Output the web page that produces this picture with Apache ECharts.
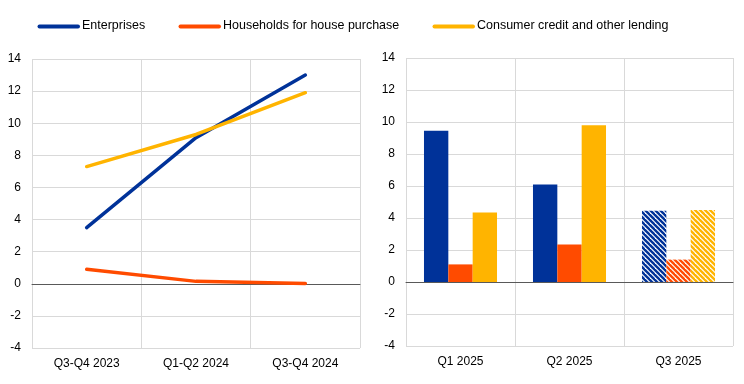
<!DOCTYPE html>
<html><head><meta charset="utf-8">
<script src="https://cdn.jsdelivr.net/npm/echarts@6/dist/echarts.min.js"></script>
<style>html,body{margin:0;padding:0;background:#fff}#c{width:744px;height:384px}</style>
</head><body><div id="c"></div>
<script>
var seriesNames = ['Enterprises', 'Households for house purchase', 'Consumer credit and other lending'];
var colors = ['#003299', '#FF4B00', '#FFB400'];
var lineCategories = ['Q3-Q4 2023', 'Q1-Q2 2024', 'Q3-Q4 2024'];
var lineEnterprises = [3.5, 9.1, 13.0];
var lineHouseholds = [0.9, 0.15, 0.02];
var lineConsumer = [7.3, 9.3, 11.9];
var barCategories = ['Q1 2025', 'Q2 2025', 'Q3 2025'];
var barEnterprises = [9.45, 6.1, 4.45];
var barHouseholds = [1.1, 2.35, 1.4];
var barConsumer = [4.35, 9.8, 4.5];
var hatchedIndex = [2];
var yTicks = {min: -4, max: 14, interval: 2};

function hatch(color) {
  var s = 5, c = document.createElement('canvas');
  c.width = s; c.height = s;
  var g = c.getContext('2d');
  g.fillStyle = '#fff'; g.fillRect(0, 0, s, s);
  g.strokeStyle = color; g.lineWidth = 2.4;
  for (var k = -1; k <= 1; k++) {
    g.beginPath(); g.moveTo(k * s - 1, -1); g.lineTo(k * s + s + 1, s + 1); g.stroke();
  }
  return {image: c, repeat: 'repeat'};
}

function barData(vals, color) {
  return vals.map(function (v, i) {
    if (hatchedIndex.indexOf(i) >= 0) return {value: v, itemStyle: {color: hatch(color)}};
    return v;
  });
}

var font = 'Liberation Sans, Arial, sans-serif';
var gridLine = '#d9d9d9';
function yAxis(gi) {
  return {type: 'value', gridIndex: gi, min: yTicks.min, max: yTicks.max, interval: yTicks.interval,
    axisLine: {show: false}, axisTick: {show: false},
    axisLabel: {color: '#000', fontSize: 12, fontFamily: font, margin: 11},
    splitLine: {lineStyle: {color: gridLine, width: 1}}};
}
function xAxis(gi, cats) {
  return {type: 'category', gridIndex: gi, data: cats, boundaryGap: true,
    axisLine: {onZero: true, lineStyle: {color: '#595959', width: 1}}, axisTick: {show: false},
    axisLabel: {color: '#000', fontSize: 12, fontFamily: font, margin: 10},
    splitLine: {show: true, lineStyle: {color: gridLine, width: 1}}};
}

var chart = echarts.init(document.getElementById('c'), null, {renderer: 'canvas'});
var lineVals = [lineEnterprises, lineHouseholds, lineConsumer];
var barVals = [barEnterprises, barHouseholds, barConsumer];
var series = [];
seriesNames.forEach(function (n, i) {
  series.push({name: n, type: 'line', xAxisIndex: 0, yAxisIndex: 0, data: lineVals[i],
    showSymbol: false, symbol: 'none', lineStyle: {color: colors[i], width: 3.5, cap: 'round'},
    itemStyle: {color: colors[i]}});
});
seriesNames.forEach(function (n, i) {
  series.push({name: n, type: 'bar', xAxisIndex: 1, yAxisIndex: 1, data: barData(barVals[i], colors[i]),
    barGap: '0%', barCategoryGap: '33%', itemStyle: {color: colors[i]}});
});

// legend (drawn as graphic so spacing matches the reference)
var legendIconX = [37.5, 178.5, 432.5];
var legendIconY = 26.5;
var legendTextY = 25;
var legendEls = [];
seriesNames.forEach(function (n, i) {
  legendEls.push({type: 'line', silent: true,
    shape: {x1: legendIconX[i] + 2, y1: legendIconY, x2: legendIconX[i] + 40.5, y2: legendIconY},
    style: {stroke: colors[i], lineWidth: 4, lineCap: 'round'}});
  legendEls.push({type: 'text', silent: true, x: legendIconX[i] + 44.5, y: legendTextY, scaleX: 0.96,
    style: {text: n, fill: '#000', font: '13px Liberation Sans, Arial, sans-serif',
      textVerticalAlign: 'middle', verticalAlign: 'middle', textAlign: 'left', align: 'left'}});
});

chart.setOption({
  animation: false,
  textStyle: {fontFamily: font},
  grid: [
    {left: 32, right: 384, top: 59, bottom: 36, containLabel: false},
    {left: 406, right: 11, top: 58, bottom: 38, containLabel: false}
  ],
  xAxis: [xAxis(0, lineCategories), xAxis(1, barCategories)],
  yAxis: [yAxis(0), yAxis(1)],
  graphic: legendEls,
  series: series
});
</script></body></html>
